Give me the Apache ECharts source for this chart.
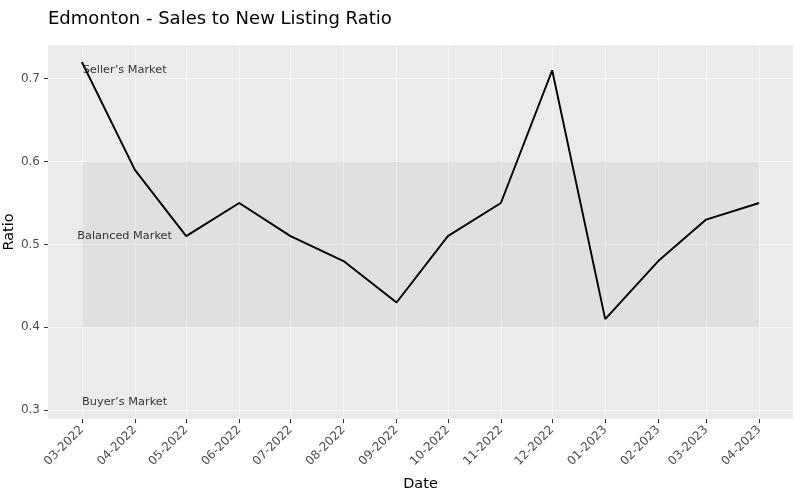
<!DOCTYPE html>
<html>
<head>
<meta charset="utf-8">
<script src="https://cdn.jsdelivr.net/npm/echarts@6/dist/echarts.min.js"></script>
<style>html,body{margin:0;padding:0;background:#fff}#c{width:800px;height:494px}</style>
</head>
<body>
<div id="c"></div>
<script>
const dates = ['2022-03-01','2022-04-01','2022-05-01','2022-06-01','2022-07-01','2022-08-01','2022-09-01','2022-10-01','2022-11-01','2022-12-01','2023-01-01','2023-02-01','2023-03-01','2023-04-01'];
const ratios = [0.72,0.59,0.51,0.55,0.51,0.48,0.43,0.51,0.55,0.71,0.41,0.48,0.53,0.55];
const yTicks = [0.3,0.4,0.5,0.6,0.7];
const zoneLabels = ["Seller\u2019s Market","Balanced Market","Buyer\u2019s Market"];
const zoneLabelY = [0.71,0.51,0.31];
const zoneLabelDate = '2022-03-26';
const balancedBand = [0.4,0.6];

function ts(s){const p=s.split('-');return Date.UTC(+p[0],+p[1]-1,+p[2]);}
const xs = dates.map(ts);
const x0 = xs[0], x1 = xs[xs.length-1];
const xPad = (x1-x0)*0.05;
const yLo = Math.min(...ratios, ...zoneLabelY), yHi = Math.max(...ratios, ...zoneLabelY);
const yPad = (yHi-yLo)*0.05;
const pad2 = n => (n<10?'0':'')+n;
const FONT = 'DejaVu Sans';
const GRID = '#f5f5f5';

const chart = echarts.init(document.getElementById('c'), null, {renderer:'canvas'});
chart.setOption({
  animation:false,
  backgroundColor:'#ffffff',
  title:{text:'Edmonton - Sales to New Listing Ratio',left:43,top:5,
    textStyle:{fontFamily:FONT,fontSize:18,fontWeight:'normal',color:'#000'}},
  grid:{left:48,right:7,top:45,bottom:75,show:true,backgroundColor:'#ebebeb',borderWidth:0,
    containLabel:false,outerBoundsMode:'none'},
  xAxis:{type:'value',min:x0-xPad,max:x1+xPad,
    name:'Date',nameLocation:'middle',nameGap:58,nameMoveOverlap:false,
    nameTextStyle:{fontFamily:FONT,fontSize:14.5,color:'#000'},
    axisLine:{show:false},
    axisTick:{show:true,customValues:xs,length:4,lineStyle:{color:'#333'}},
    axisLabel:{customValues:xs,rotate:45,fontFamily:FONT,fontSize:12,color:'#4d4d4d',margin:9,
      formatter:v=>{const d=new Date(v);return pad2(d.getUTCMonth()+1)+'-'+d.getUTCFullYear();}},
    splitLine:{show:false}},
  yAxis:{type:'value',min:yLo-yPad,max:yHi+yPad,
    name:'Ratio',nameLocation:'middle',nameGap:31,nameMoveOverlap:false,
    nameTextStyle:{fontFamily:FONT,fontSize:14.5,color:'#000'},
    axisLine:{show:false},
    axisTick:{show:true,customValues:yTicks,length:4,lineStyle:{color:'#333'}},
    axisLabel:{customValues:yTicks,fontFamily:FONT,fontSize:12,color:'#4d4d4d',margin:8,
      formatter:v=>v.toFixed(1)},
    splitLine:{show:false}},
  series:[
    {type:'line',data:[],z:0,silent:true,
      markLine:{z:0,silent:true,symbol:'none',label:{show:false},animation:false,
        lineStyle:{color:GRID,width:1,type:'solid'},
        data:xs.map(x=>({xAxis:x})).concat(yTicks.map(y=>({yAxis:y})))}},
    {type:'line',data:[],z:1,silent:true,
      markArea:{z:1,silent:true,itemStyle:{color:'rgba(0,0,0,0.045)'},
        data:[[{xAxis:x0,yAxis:balancedBand[0]},{xAxis:x1,yAxis:balancedBand[1]}]]}},
    {type:'line',z:3,data:xs.map((x,i)=>[x,ratios[i]]),showSymbol:false,symbol:'none',
      lineStyle:{color:'#000',width:1.9}},
    {type:'scatter',z:4,symbolSize:0,
      data:zoneLabels.map((t,i)=>({value:[ts(zoneLabelDate),zoneLabelY[i]],name:t})),
      label:{show:true,position:'inside',formatter:p=>p.name,fontFamily:FONT,fontSize:11.3,color:'#000'}}
  ]
});
</script>
</body>
</html>
